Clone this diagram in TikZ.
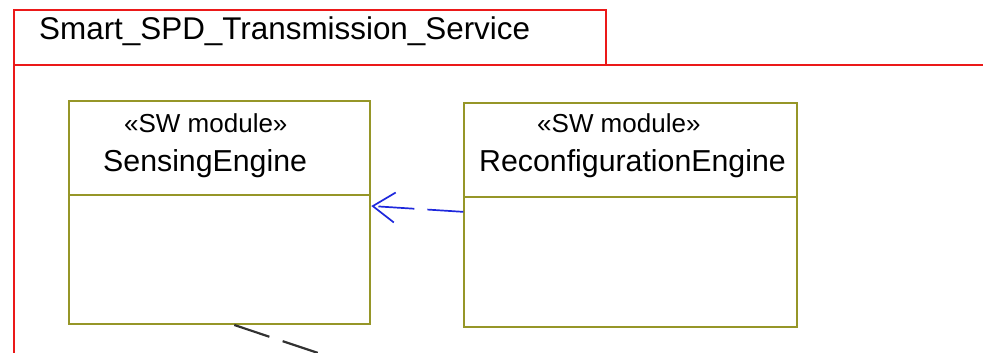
\documentclass[tikz,border=0pt]{standalone}
\usepackage{fontspec}
\setmainfont{Liberation Sans}
\usetikzlibrary{arrows.meta}
\definecolor{frame}{RGB}{235,25,25}
\definecolor{olivebox}{RGB}{150,150,40}
\definecolor{depblue}{RGB}{30,40,220}
\definecolor{depgray}{RGB}{50,50,50}
\tikzset{
  module/.style={draw=olivebox, line width=2pt, fill=white, rectangle, inner sep=0pt, anchor=north west},
  stereo/.style={anchor=base west, inner sep=0pt, font=\fontsize{26}{30}\selectfont},
  mname/.style={anchor=base west, inner sep=0pt, font=\fontsize{30.3}{36}\selectfont},
  pkgname/.style={anchor=base west, inner sep=0pt, font=\fontsize{31.4}{36}\selectfont},
  pkgline/.style={draw=frame, line width=2pt},
  divider/.style={draw=olivebox, line width=2pt},
  usage/.style={draw=depblue, line width=1.7pt, dash pattern=on 36pt off 13pt, -{Straight Barb[length=22pt,width=30pt,line width=1.7pt]}},
  depline/.style={draw=depgray, line width=2.2pt, dash pattern=on 37pt off 14pt}
}
\begin{document}
\begin{tikzpicture}[x=1pt,y=-1pt]
\useasboundingbox (0,0) rectangle (983,353);
\clip (0,0) rectangle (983,353);
% package frame
\draw[pkgline] (14,360) -- (14,10.5) -- (605.7,10.5) -- (605.7,65);
\draw[pkgline] (14,65) -- (990,65);
\node[pkgname] (pkg) at (39,39.5) {Smart\_SPD\_Transmission\_Service};
% modules
\node[module, minimum width=301pt, minimum height=223pt] (sensing) at (68.3,100) {};
\node[module, minimum width=332.7pt, minimum height=224.3pt] (reconf) at (463.3,101.7) {};
\draw[divider] ([yshift=-94.7pt]sensing.north west) -- ([yshift=-94.7pt]sensing.north east);
\draw[divider] ([yshift=-95pt]reconf.north west) -- ([yshift=-95pt]reconf.north east);
\node[stereo] (sst) at (124,132) {«SW module»};
\node[mname] (sname) at (103,171) {SensingEngine};
\node[stereo] (rst) at (537,132) {«SW module»};
\begin{scope}
\clip (reconf.north west) rectangle ([xshift=-1pt]reconf.south east);
\node[mname] (rname) at (479,171) {ReconfigurationEngine};
\end{scope}
% connectors
\draw[usage] ([yshift=3pt]reconf.west) -- ([yshift=6.5pt]sensing.east);
\coordinate (depend) at (345,362);
\draw[depline] ([xshift=14.5pt]sensing.south) -- (depend);
\end{tikzpicture}
\end{document}
